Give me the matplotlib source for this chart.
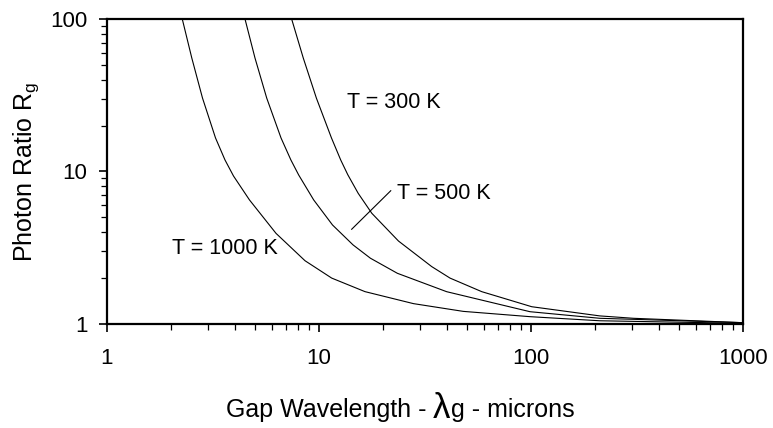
import matplotlib
matplotlib.use("Agg")
import matplotlib.pyplot as plt
from matplotlib.ticker import LogLocator, NullFormatter, FuncFormatter
from matplotlib.offsetbox import TextArea, HPacker, AnnotationBbox

plt.rcParams['font.family'] = ['Liberation Sans', 'DejaVu Sans']

# values (gap wavelength in microns, photon ratio)
x_1000 = [2.265, 2.512, 2.822, 3.25, 3.603, 3.952, 4.70, 6.27, 8.59, 11.48,
          16.48, 27.9, 47.9, 98.9, 211, 1000]
y_1000 = [100, 55.5, 30.3, 16.6, 11.9, 9.34, 6.51, 3.93, 2.60, 2.00,
          1.63, 1.36, 1.21, 1.117, 1.05, 1.01]

x_500 = [4.477, 4.99, 5.668, 6.62, 7.37, 8.02, 9.44, 11.58, 14.48, 17.48,
         23.43, 40.0, 98.9, 211, 1000]
y_500 = [100, 55.5, 30.3, 16.6, 11.9, 9.49, 6.51, 4.46, 3.30, 2.70,
         2.15, 1.629, 1.204, 1.09, 1.02]

x_300 = [7.43, 8.43, 9.72, 11.45, 12.66, 13.67, 15.31, 17.75, 23.71, 34.0,
         41.5, 58.6, 71.4, 100.8, 211, 304, 1000]
y_300 = [100, 55.5, 30.3, 16.6, 11.9, 9.53, 7.19, 5.32, 3.50, 2.38,
         2.00, 1.629, 1.50, 1.298, 1.13, 1.09, 1.02]

labels = ["T = 1000 K", "T = 500 K", "T = 300 K"]
label_pos = [(2.02, 2.86), (23.3, 6.57), (13.5, 26.1)]

# leader line from the 500 K label to its curve
lead_x = [14.26, 21.8]
lead_y = [4.18, 7.48]

fig = plt.figure(figsize=(7.73, 4.28), dpi=100)
ax = fig.add_axes([0.1384, 0.243, 0.8228, 0.7126])

for xs, ys in [(x_1000, y_1000), (x_500, y_500), (x_300, y_300)]:
    ax.plot(xs, ys, color='black', linewidth=0.8)
ax.plot(lead_x, lead_y, color='black', linewidth=0.8)

ax.set_xscale('log')
ax.set_yscale('log')
ax.set_xlim(1, 1000)
ax.set_ylim(1, 100)

for txt, (tx, ty) in zip(labels, label_pos):
    ax.text(tx, ty, txt, fontsize=15.5, ha='left', va='baseline')

for s in ax.spines.values():
    s.set_linewidth(1.6)

fmt = FuncFormatter(lambda v, p: "%d" % round(v))
for axis in (ax.xaxis, ax.yaxis):
    axis.set_major_locator(LogLocator(base=10))
    axis.set_minor_locator(LogLocator(base=10, subs=range(2, 10)))
    axis.set_major_formatter(fmt)
    axis.set_minor_formatter(NullFormatter())

ax.tick_params(which='major', direction='out', length=6, width=1.2, labelsize=16)
ax.tick_params(which='minor', direction='out', length=4, width=0.9)
ax.tick_params(axis='x', which='major', pad=11)
ax.tick_params(axis='y', which='major', pad=8)

ax.set_ylabel("Photon Ratio R$_\\mathregular{g}$", fontsize=18, va='center')
ax.yaxis.set_label_coords(-0.127, 0.5)

# x label with an enlarged lambda
parts = [TextArea("Gap Wavelength - ", textprops=dict(fontsize=18)),
         TextArea("\u03bb", textprops=dict(fontsize=25)),
         TextArea("g - microns", textprops=dict(fontsize=18))]
box = HPacker(children=parts, align="baseline", pad=0, sep=0)
ab = AnnotationBbox(box, (400 / 773, 1 - 408 / 428), xycoords='figure fraction',
                    frameon=False, box_alignment=(0.5, 0.5))
fig.add_artist(ab)

fig.savefig("out.png", dpi=100)
